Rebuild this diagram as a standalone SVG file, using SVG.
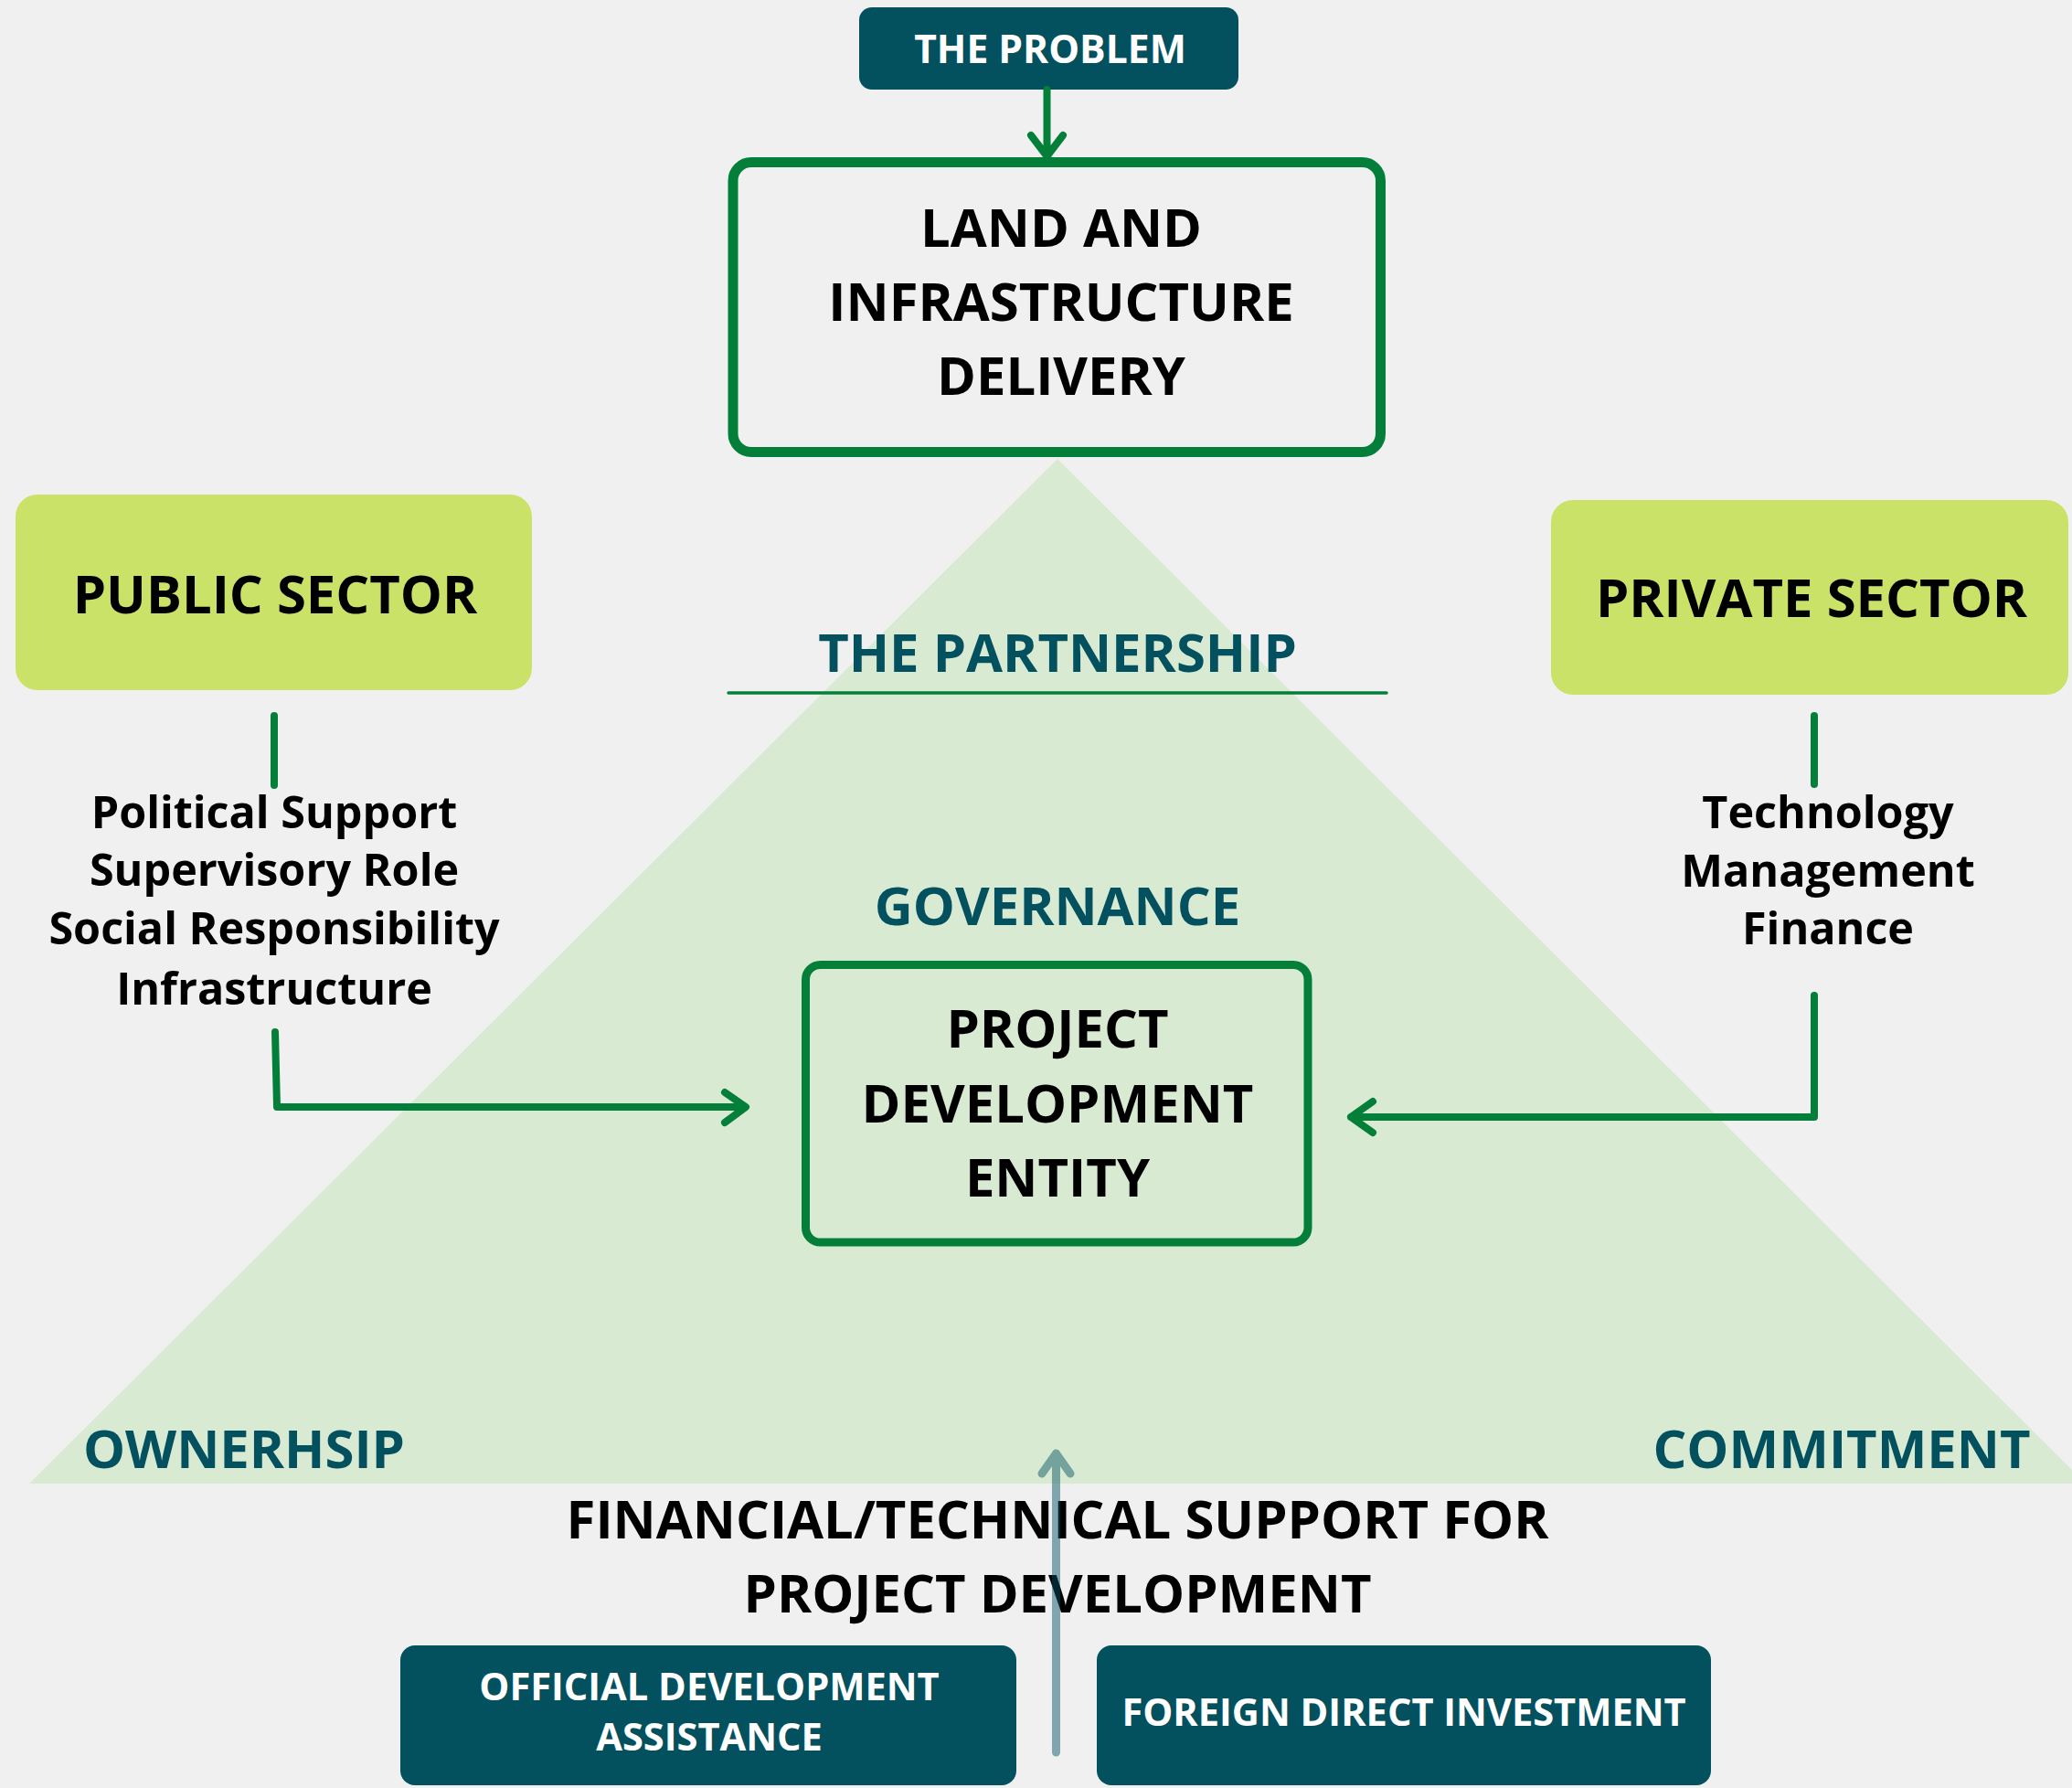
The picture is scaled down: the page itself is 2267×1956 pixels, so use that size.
<svg xmlns="http://www.w3.org/2000/svg" width="2267" height="1956" viewBox="0 0 2267 1956">
<style>
text{font-family:"Open Sans","Noto Sans","DejaVu Sans",sans-serif;font-weight:700;text-anchor:middle}
.big{font-size:58px;fill:#000}
.teal{font-size:58px;fill:#03505f}
.list{font-size:48.5px;fill:#000}
.wt{font-size:41.6px;fill:#fff}
.ln{fill:none;stroke:#047f3a;stroke-width:8;stroke-linecap:round;stroke-linejoin:round}
.dark{fill:#03505f}
.lime{fill:#cbe268}
</style>
<rect width="2267" height="1956" fill="#f0f0f0"/>
<polygon points="1157,502 32,1623 2282,1623" fill="#d9ead3"/>

<g id="the-problem">
<rect class="dark" x="940" y="8" width="415" height="90" rx="14"/>
<text class="wt" style="font-size:42.6px" x="1149" y="69">THE PROBLEM</text>
</g>

<g id="land-infrastructure">
<rect x="802" y="177.5" width="708.5" height="317" rx="20" fill="none" stroke="#047f3a" stroke-width="11"/>
<text class="big" x="1161" y="270">LAND AND</text>
<text class="big" x="1161" y="351">INFRASTRUCTURE</text>
<text class="big" x="1161" y="432">DELIVERY</text>
</g>

<g id="partnership">
<text class="teal" x="1157" y="735">THE PARTNERSHIP</text>
<line x1="797" y1="758" x2="1517" y2="758" stroke="#047f3a" stroke-width="3.5" stroke-linecap="round"/>
</g>

<g id="governance">
<text class="teal" x="1157" y="1012">GOVERNANCE</text>
</g>

<g id="public-sector">
<rect class="lime" x="17" y="541" width="565" height="214" rx="24"/>
<text class="big" x="301" y="671">PUBLIC SECTOR</text>
</g>

<g id="public-roles">
<text class="list" x="300" y="906">Political Support</text>
<text class="list" x="300" y="969">Supervisory Role</text>
<text class="list" x="300" y="1033">Social Responsibility</text>
<text class="list" x="300" y="1099">Infrastructure</text>
</g>

<g id="private-sector">
<rect class="lime" x="1697" y="547" width="566" height="213" rx="24"/>
<text class="big" x="1982" y="675">PRIVATE SECTOR</text>
</g>

<g id="private-roles">
<text class="list" x="2000" y="906">Technology</text>
<text class="list" x="2000" y="970">Management</text>
<text class="list" x="2000" y="1033">Finance</text>
</g>

<g id="project-development-entity">
<rect x="881.5" y="1055.5" width="549.5" height="303.5" rx="16" fill="none" stroke="#047f3a" stroke-width="9"/>
<text class="big" x="1157" y="1146">PROJECT</text>
<text class="big" x="1157" y="1228">DEVELOPMENT</text>
<text class="big" x="1157" y="1309">ENTITY</text>
</g>

<g id="ownership">
<text class="teal" x="267" y="1606">OWNERHSIP</text>
</g>
<g id="commitment">
<text class="teal" x="2015" y="1606">COMMITMENT</text>
</g>

<g id="support">
<text class="big" x="1157" y="1683">FINANCIAL/TECHNICAL SUPPORT FOR</text>
<text class="big" x="1157" y="1764">PROJECT DEVELOPMENT</text>
</g>

<g id="oda">
<rect class="dark" x="438" y="1800" width="674" height="153" rx="16"/>
<text class="wt" x="776" y="1860">OFFICIAL DEVELOPMENT</text>
<text class="wt" x="776" y="1915">ASSISTANCE</text>
</g>

<g id="fdi">
<rect class="dark" x="1200" y="1800" width="672" height="153" rx="16"/>
<text class="wt" x="1536" y="1888">FOREIGN DIRECT INVESTMENT</text>
</g>

<g id="connectors">
<path class="ln" d="M1145.5,98 V170 M1128,148 L1145.5,171 L1163,148"/>
<path class="ln" d="M300,783 V859"/>
<path class="ln" d="M301,1129 L303,1211 H815 M793,1195 L816,1211 L793,1228"/>
<path class="ln" d="M1985,783 V858"/>
<path class="ln" d="M1985,1089 V1222 H1478 M1502,1205 L1478,1222 L1502,1239"/>
<path d="M1155.5,1917 V1592 M1140,1612 L1155.5,1590 L1171,1612" fill="none" stroke="#03505f" stroke-opacity="0.47" stroke-width="9" stroke-linecap="round" stroke-linejoin="round"/>
</g>
</svg>
